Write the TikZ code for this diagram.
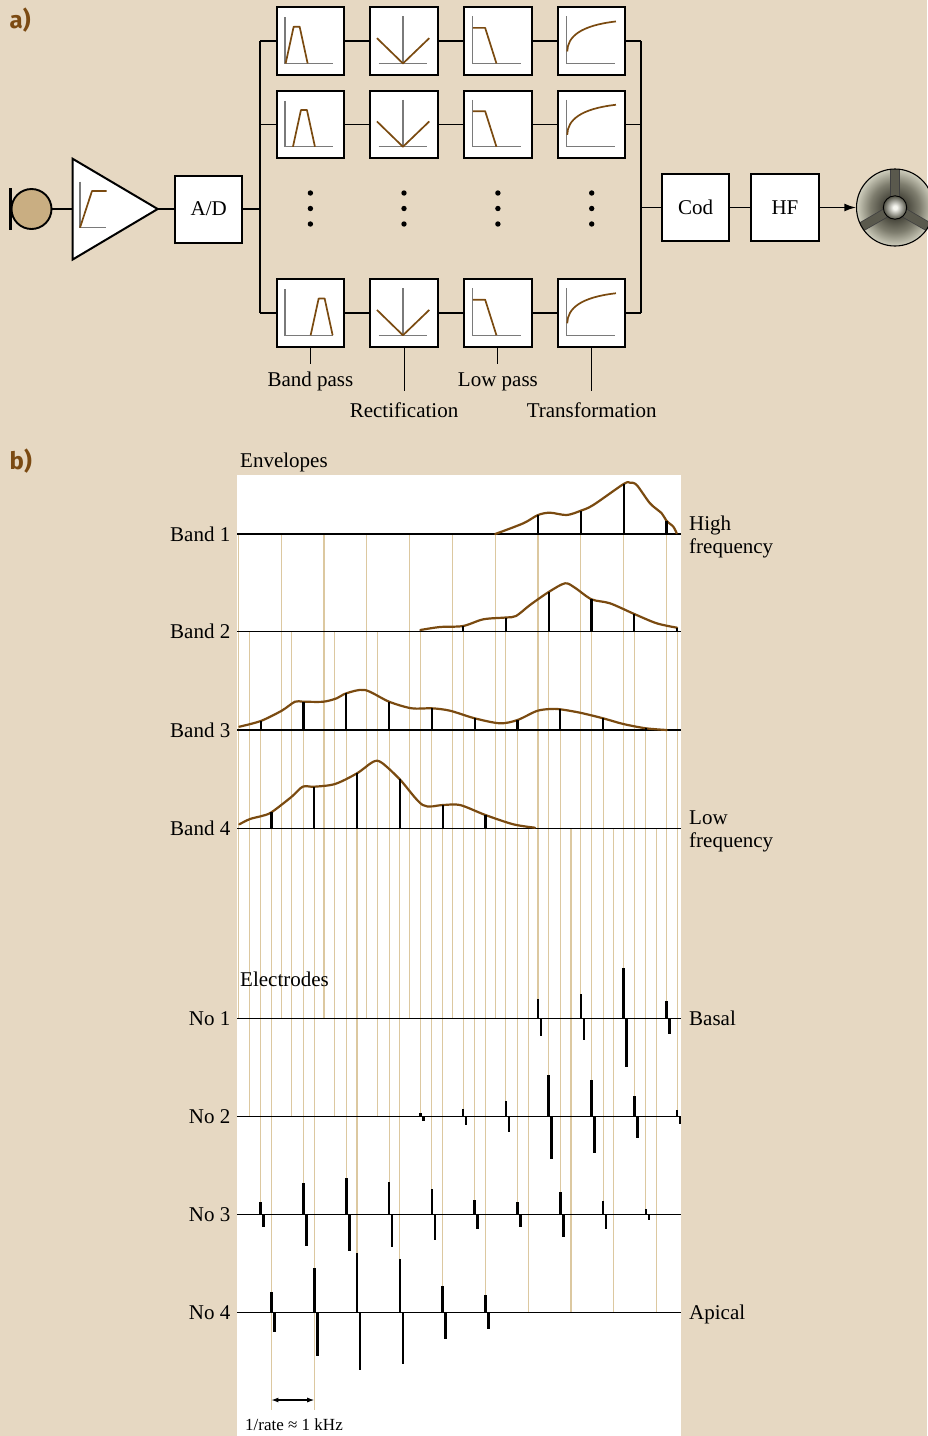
\documentclass[tikz,border=0pt]{standalone}
\usepackage{fontspec}
\setmainfont{Liberation Serif}
\newfontfamily\tagfont{Fira Sans}
\usetikzlibrary{arrows.meta}

\definecolor{bgbeige}{HTML}{E6D8C2}
\definecolor{mictan}{HTML}{C9AE82}
\definecolor{curvebrown}{HTML}{7A4A10}
\definecolor{tagbrown}{HTML}{7B4A12}
\definecolor{gridtan}{HTML}{DCC8A0}
\definecolor{axisgray}{HTML}{7A7A7A}
\definecolor{conedark}{HTML}{3F3E34}
\definecolor{conemid}{HTML}{7E7D6E}
\definecolor{conelight}{HTML}{CFCEBD}
\definecolor{hublight}{HTML}{F6F6F0}
\definecolor{hubdark}{HTML}{505044}
\definecolor{spokecol}{HTML}{5A594D}

% radial shadings: the path's radius corresponds to 25bp
\pgfdeclareradialshading{conegrad}{\pgfpoint{0bp}{0bp}}{color(0bp)=(conedark); color(6bp)=(conedark); color(16bp)=(conemid); color(25bp)=(conelight); color(50bp)=(conelight)}
\pgfdeclareradialshading{hubgrad}{\pgfpoint{0bp}{0bp}}{color(0bp)=(hublight); color(4bp)=(hublight); color(25bp)=(hubdark); color(50bp)=(hubdark)}

\begin{document}
\begin{tikzpicture}[x=1pt,y=-1pt,
  wire/.style={line width=1.9pt},
  box/.style={draw, line width=2pt, fill=white, minimum width=67.5pt, minimum height=67.5pt, inner sep=0pt, font=\fontsize{21}{25}\selectfont},
  txt/.style={inner sep=0pt, font=\fontsize{21}{25}\selectfont},
  smalltxt/.style={inner sep=0pt, font=\fontsize{17}{20}\selectfont},
  paneltag/.style={inner sep=0pt, font=\fontsize{24}{28}\selectfont\tagfont\bfseries, text=tagbrown},
  axisline/.style={draw=axisgray, line width=1.2pt},
  iconcurve/.style={draw=curvebrown, line width=1.7pt, line join=round},
  tickline/.style={line width=1pt},
  gridline/.style={draw=gridtan, line width=1.1pt},
  axisrule/.style={line width=1.6pt},
  envline/.style={draw=curvebrown, line width=2.2pt, line join=round, line cap=round},
  sampline/.style={line width=2.2pt},
  pulseline/.style={line width=2.6pt},
]
\useasboundingbox (0,0) rectangle (927,1436);
\fill[bgbeige] (0,0) rectangle (927,1436);

% ---------------- panel a: processing chain ----------------
\node[paneltag, anchor=base west] (taga) at (9.5,28.3) {a)};

% microphone
\node[circle, draw, line width=1.9pt, fill=mictan, minimum size=40pt, inner sep=0pt] (mic) at (31.5,209) {};
\draw[line width=2.2pt] ([yshift=21pt]mic.west) -- ([yshift=-21pt]mic.west);

% amplifier
\coordinate (ampin) at (72.7,209);
\coordinate (ampout) at (157.7,209);
\draw[line width=2pt, fill=white, line join=miter] (72.7,158.8) -- (ampout) -- (72.7,259.5) -- cycle;
\draw[axisline] (80,181.7) -- (80,227.7) -- (106,227.7);
\draw[iconcurve] (80,227.7) -- (92,191) -- (106.7,191);
\draw[wire] (mic.east) -- (ampin);

% A/D converter
\node[box, minimum height=67pt] (ad) at (208.7,209) {A/D};
\draw[wire] (ampout) -- (ad.west);

% filter bank
\foreach \r/\y in {1/41.2, 2/124.5, 3/313}{
  \foreach \c/\x in {1/310.4, 2/404, 3/497.9, 4/591.7}{
    \node[box] (f\r\c) at (\x,\y) {};
  }
  \coordinate (bl\r) at (260,\y);
  \coordinate (br\r) at (641,\y);
  \draw[wire] (bl\r) -- (f\r1.west) (f\r1.east) -- (f\r2.west) (f\r2.east) -- (f\r3.west)
              (f\r3.east) -- (f\r4.west) (f\r4.east) -- (br\r);
}
% filter icons: band pass (centre frequency differs per row)
\foreach \r/\a in {1/10, 2/17.3, 3/35}{
  \begin{scope}[shift={(f\r1.north west)}]
    \draw[axisline] (9.3,11) -- (9.3,57) -- (57.3,57);
    \draw[iconcurve] (\a,57) -- (\a+8,20.3) -- (\a+14,20.3) -- (\a+22,57);
  \end{scope}
}
\foreach \r in {1,2,3}{
  % rectification
  \begin{scope}[shift={(f\r2.north west)}]
    \draw[axisline] (33.7,10) -- (33.7,57);
    \draw[axisline] (9.3,57) -- (57.3,57);
    \draw[iconcurve] (7.7,31.7) -- (33.7,57) -- (60,31.7);
  \end{scope}
  % low pass
  \begin{scope}[shift={(f\r3.north west)}]
    \draw[axisline] (9.7,10) -- (9.7,57) -- (57.7,57);
    \draw[iconcurve] (9.7,21.4) -- (22,21.4) -- (33.3,57);
  \end{scope}
  % compressive transformation
  \begin{scope}[shift={(f\r4.north west)}]
    \draw[axisline] (9.7,10) -- (9.7,57) -- (58,57);
    \draw[iconcurve] (10.3,45) .. controls (10.5,30) and (24,19) .. (59,15);
  \end{scope}
}
\draw[wire] (bl1) -- (bl3);
\draw[wire] (br1) -- (br3);
\coordinate (blm) at (260,209);
\coordinate (brm) at (641,207.5);
\draw[wire] (ad.east) -- (blm);

% ellipsis dots between rows
\foreach \x in {310.4, 404, 497.9, 591.7}
  \foreach \y in {193, 208.5, 224}
    \fill (\x,\y) circle (2.7);

% stage labels
\node[txt, anchor=base] (lbp) at (310.4,386.7) {Band pass};
\node[txt, anchor=base] (lrc) at (404,417.3) {Rectification};
\node[txt, anchor=base] (llp) at (497.9,386.7) {Low pass};
\node[txt, anchor=base] (ltr) at (591.7,417.3) {Transformation};
\draw[tickline] (f31.south) -- ++(0,16);
\draw[tickline] (f32.south) -- ++(0,43);
\draw[tickline] (f33.south) -- ++(0,16);
\draw[tickline] (f34.south) -- ++(0,43);

% coder, transmitter, coil
\node[box, minimum height=67pt] (cod) at (695.5,207.5) {Cod};
\node[box, minimum height=67pt, minimum width=68pt] (hf) at (785,207.5) {HF};
\node[circle, minimum size=77pt, inner sep=0pt] (spk) at (895,207.5) {};
\draw[wire] (brm) -- (cod.west);
\draw[wire] (cod.east) -- (hf.west);
\draw[wire, -{Latex[length=12pt,width=8pt]}] (hf.east) -- (spk.west);

% speaker-like transmitter coil
\shade[shading=conegrad] (spk.center) circle (38.5);
\begin{scope}
  \clip (spk.center) circle (38.5);
  \foreach \a in {270, 150, 30}{
    \draw[draw=black!75, line width=9.6pt] (spk.center) -- ++(\a:45);
    \draw[draw=spokecol, line width=8pt] (spk.center) -- ++(\a:45);
  }
\end{scope}
\shade[shading=hubgrad] (spk.center) circle (11.7);
\draw[line width=0.9pt] (spk.center) circle (11.7);
\draw[line width=1.1pt] (spk.center) circle (38.5);

% ---------------- panel b: envelopes and pulse trains ----------------
\node[paneltag, anchor=base west] (tagb) at (9.5,469.3) {b)};
\fill[white] (237,475) rectangle (681,1436);

% sampling instants: each band from its envelope axis to its electrode axis
\foreach \n in {0,...,10}
  \draw[gridline] ({238.4+42.8*\n},534) -- ({238.4+42.8*\n},1018.3);
\foreach \n in {0,...,10}
  \draw[gridline] ({249.1+42.8*\n},631.5) -- ({249.1+42.8*\n},1116.5);
\foreach \n in {0,...,9}
  \draw[gridline] ({260.7+42.8*\n},730) -- ({260.7+42.8*\n},1214.3);
\foreach \n in {2,...,9}
  \draw[gridline] ({271.4+42.8*\n},828.3) -- ({271.4+42.8*\n},1312.3);
\foreach \n in {0,1}
  \draw[gridline] ({271.4+42.8*\n},828.3) -- ({271.4+42.8*\n},1410);

% axes
\foreach \y in {534, 631.5, 730, 828.3, 1018.3, 1116.5, 1214.3, 1312.3}
  \draw[axisrule] (237,\y) -- (681,\y);

% band envelopes
\draw[envline] plot[smooth, tension=0.5] coordinates {(495.2,534) (523.3,523.3) (538.0,515) (550,512.7) (566.7,515) (580.8,510.7) (593.3,505) (623.6,484) (630,482.7) (636.7,485) (650,503.3) (661.7,513.3) (666.4,520.7) (673.3,526.7) (676.7,533.3)};
\draw[envline] plot[smooth, tension=0.5] coordinates {(420.3,630) (440,627) (463.1,626) (483.3,619.3) (505.9,617.5) (516,616) (530,605) (548.7,592) (565,583.3) (575,587.8) (591.5,599.3) (610,603.3) (634.3,614) (656.7,623.3) (677.1,627.7)};
\draw[envline] plot[smooth, tension=0.5] coordinates {(239.3,726.7) (260.7,721) (281.7,710.7) (295,701.7) (303.5,701.7) (323.3,701.7) (336.7,698.3) (346.3,693.3) (365,690) (389.1,701.7) (411.7,708.3) (431.9,708.3) (450,710.7) (474.7,718.3) (500,723.3) (517.5,720) (536.7,711) (550,709) (560.3,709.3) (580,712.7) (603.1,718.3) (623.3,724) (645.9,728.3) (666.7,730)};
\draw[envline] plot[smooth, tension=0.5] coordinates {(239.3,824.3) (250,819) (261.7,816) (271.4,812.3) (291.7,796.7) (302.7,786.7) (314.2,786.7) (335,784) (357,773.3) (373.3,761.7) (381.7,762.7) (399.8,779.3) (422.7,805) (442.6,805) (460,805) (485.4,815) (513.3,824.3) (535,827.7)};

% envelope samples
\foreach \x/\t in {538.0/515, 580.8/510.7, 623.6/484, 666.4/520.7}
  \draw[sampline] (\x,534) -- (\x,\t);
\foreach \x/\t in {463.1/626, 505.9/617.5, 548.7/592, 591.5/599.3, 634.3/614, 677.1/627.7}
  \draw[sampline] (\x,631.5) -- (\x,\t);
\foreach \x/\t in {260.7/721, 303.5/701.7, 346.3/693.3, 389.1/701.7, 431.9/708.3, 474.7/718.3, 517.5/720, 560.3/709.3, 603.1/718.3, 645.9/728}
  \draw[sampline] (\x,730) -- (\x,\t);
\foreach \x/\t in {271.4/812.3, 314.2/786.7, 357/773.3, 399.8/779.3, 442.6/805, 485.4/815}
  \draw[sampline] (\x,828.3) -- (\x,\t);

% biphasic stimulation pulses
\foreach \x/\a/\b in {538.0/19/18, 580.8/24/22, 623.6/50/49, 666.4/17/16}{
  \draw[pulseline] (\x,1018.3) -- ++(0,-\a);
  \draw[pulseline] (\x+3,1018.3) -- ++(0,\b);
}
\foreach \x/\a/\b in {420.3/4/4, 463.1/8/8, 505.9/16/15, 548.7/42/42, 591.5/37/36, 634.3/21/21, 677.1/7/7}{
  \draw[pulseline] (\x,1116.5) -- ++(0,-\a);
  \draw[pulseline] (\x+3,1116.5) -- ++(0,\b);
}
\foreach \x/\a/\b in {260.7/12.6/12.4, 303.5/31/31.4, 346.3/36.6/36.7, 389.1/32/32.3, 431.9/25.6/25.3, 474.7/14.6/14.7, 517.5/12/12.3, 560.3/22.6/22.3, 603.1/13.6/14.3, 645.9/5/5.7}{
  \draw[pulseline] (\x,1214.3) -- ++(0,-\a);
  \draw[pulseline] (\x+3,1214.3) -- ++(0,\b);
}
\foreach \x/\a/\b in {271.4/20/20, 314.2/44.6/43.4, 357/59/57.7, 399.8/53.3/52, 442.6/26.6/26.7, 485.4/17.3/17}{
  \draw[pulseline] (\x,1312.3) -- ++(0,-\a);
  \draw[pulseline] (\x+3,1312.3) -- ++(0,\b);
}

% pulse period marker
\coordinate (pa) at (271.4,1400);
\coordinate (pb) at (314.2,1400);
\draw[line width=1.1pt, {Latex[length=7pt,width=5pt]}-{Latex[length=7pt,width=5pt]}] (pa) -- (pb);
\node[smalltxt, anchor=base west] (rate) at (245,1430) {1/rate ≈ 1 kHz};

% row labels
\node[txt, anchor=base west] (envl) at (240,467.3) {Envelopes};
\node[txt, anchor=base west] (elel) at (240,986.7) {Electrodes};
\node[txt, anchor=base east] (b1) at (230.5,541) {Band 1};
\node[txt, anchor=base east] (b2) at (230.5,638.5) {Band 2};
\node[txt, anchor=base east] (b3) at (230.5,737) {Band 3};
\node[txt, anchor=base east] (b4) at (230.5,835.3) {Band 4};
\node[txt, anchor=base east] (n1) at (230.5,1025.3) {No 1};
\node[txt, anchor=base east] (n2) at (230.5,1123.5) {No 2};
\node[txt, anchor=base east] (n3) at (230.5,1221.3) {No 3};
\node[txt, anchor=base east] (n4) at (230.5,1319.3) {No 4};
\node[txt, anchor=base west] (hi1) at (689,530.5) {High};
\node[txt, anchor=base west] (hi2) at (689,553) {frequency};
\node[txt, anchor=base west] (lo1) at (689,824.5) {Low};
\node[txt, anchor=base west] (lo2) at (689,847) {frequency};
\node[txt, anchor=base west] (bas) at (689,1025.3) {Basal};
\node[txt, anchor=base west] (api) at (689,1319.3) {Apical};
\end{tikzpicture}
\end{document}
